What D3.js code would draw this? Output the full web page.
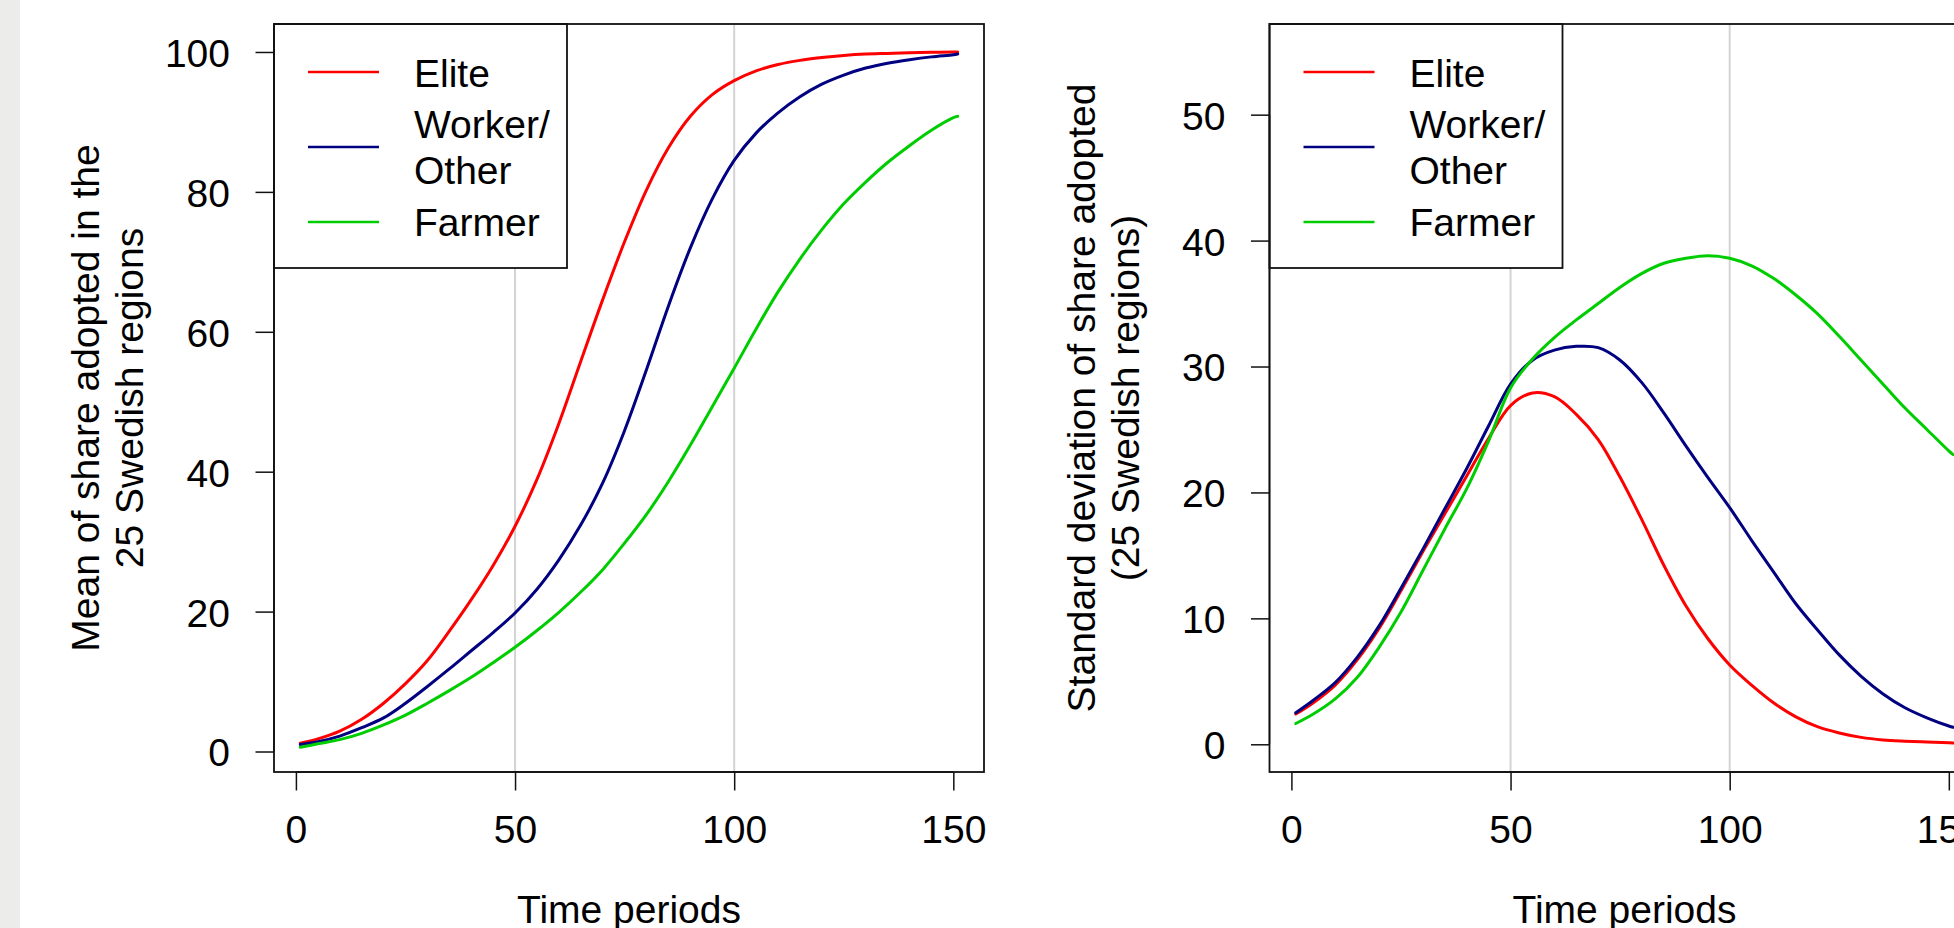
<!DOCTYPE html>
<html>
<head>
<meta charset="utf-8">
<script src="https://cdn.jsdelivr.net/npm/d3@7"></script>
<style>
html,body{margin:0;padding:0;background:#fff;overflow:hidden}
svg{display:block}
text{font-family:"Liberation Sans",Arial,Helvetica,sans-serif;fill:#000}
</style>
</head>
<body>
<svg id="chart" width="1954" height="928"></svg>
<script>
// ---------------- data ----------------
const timePeriods = [1,5,10,15,20,25,30,35,40,45,50,55,60,65,70,75,80,85,90,95,100,105,110,115,120,125,130,135,140,145,150,151];

// Left panel: mean of share adopted in the 25 Swedish regions
const meanElite  = [1.2,1.8,2.9,4.6,6.9,9.7,13.0,17.2,21.7,26.6,32.2,38.9,46.9,55.8,64.6,72.9,80.3,86.3,90.8,93.9,95.9,97.3,98.2,98.8,99.2,99.5,99.7,99.8,99.9,99.95,100.0,100.0];
const meanWorker = [1.0,1.4,2.2,3.4,4.8,6.9,9.3,11.8,14.4,17.0,19.8,23.2,27.4,32.4,38.4,45.9,54.6,63.7,72.0,79.0,84.5,88.4,91.3,93.6,95.4,96.7,97.7,98.4,98.9,99.3,99.6,99.7];
const meanFarmer = [0.6,1.1,1.7,2.6,3.8,5.2,6.9,8.7,10.6,12.7,14.9,17.3,19.9,22.8,26.0,29.8,33.9,38.6,43.8,49.3,54.8,60.4,65.7,70.4,74.6,78.3,81.4,84.2,86.6,88.8,90.6,90.8];

// Right panel: standard deviation of share adopted (25 Swedish regions)
const sdElite  = [2.4,3.3,4.7,6.7,9.2,12.2,15.3,18.3,21.3,24.3,26.9,27.9,27.6,26.2,24.2,21.2,17.8,14.2,11.0,8.4,6.3,4.7,3.3,2.2,1.4,0.9,0.55,0.35,0.25,0.18,0.12,0.1];
const sdWorker = [2.5,3.5,4.9,6.9,9.4,12.4,15.5,18.7,21.9,25.3,28.6,30.5,31.3,31.6,31.5,30.5,28.7,26.3,23.7,21.2,18.8,16.2,13.7,11.2,9.1,7.1,5.4,4.0,2.9,2.1,1.45,1.35];
const sdFarmer = [1.65,2.4,3.6,5.3,7.7,10.5,13.8,17.1,20.3,24.1,28.3,30.6,32.3,33.7,35.0,36.3,37.4,38.2,38.6,38.8,38.6,38.0,37.0,35.7,34.2,32.4,30.5,28.6,26.7,25.0,23.3,23.0];

const seriesLabels = [["Elite"],["Worker/","Other"],["Farmer"]];
const seriesColors = ["#FF0000","#000080","#00CD00"];

const xTicks = [0,50,100,150];
const gridTicks = [50,100];
const leftYTicks = [0,20,40,60,80,100];
const rightYTicks = [0,10,20,30,40,50];

const xLabel = "Time periods";
const leftYLabel = ["Mean of share adopted in the","25 Swedish regions"];
const rightYLabel = ["Standard deviation of share adopted","(25 Swedish regions)"];

// ---------------- drawing ----------------
const svg = d3.select("#chart");
const FS = 39;

svg.append("rect").attr("x",0).attr("y",0).attr("width",1954).attr("height",928).attr("fill","#fff");
svg.append("rect").attr("x",0).attr("y",0).attr("width",20).attr("height",928).attr("fill","#ececea");

function drawPanel(boxLeft, yDomain, yTicks, series, yTitle) {
  const top = 24, bottom = 772, width = 710;
  const x = d3.scaleLinear().domain([-5,157]).range([boxLeft, boxLeft + width]);
  const y = d3.scaleLinear().domain(yDomain).range([bottom, top]);
  const g = svg.append("g");

  // grid lines
  g.selectAll("line.grid").data(gridTicks).enter().append("line")
    .attr("x1", d => x(d)).attr("x2", d => x(d))
    .attr("y1", top).attr("y2", bottom)
    .attr("stroke", "#d3d3d3").attr("stroke-width", 2);

  // curves
  const line = d3.line().x((d,i) => x(timePeriods[i])).y(d => y(d)).curve(d3.curveCatmullRom.alpha(0.5));
  series.forEach((s, k) => {
    g.append("path").datum(s).attr("d", line)
      .attr("fill","none").attr("stroke", seriesColors[k])
      .attr("stroke-width", 3).attr("stroke-linejoin","round").attr("stroke-linecap","round");
  });

  // legend
  const lg = g.append("g");
  lg.append("rect").attr("x", boxLeft).attr("y", top).attr("width", 293).attr("height", 244)
    .attr("fill","#fff").attr("stroke","#111").attr("stroke-width",1.8);
  const legendLineY = [72,147,222];
  const legendTextY = [[87],[138,184],[236]];
  seriesLabels.forEach((lab, k) => {
    lg.append("line").attr("x1", boxLeft+34).attr("x2", boxLeft+105)
      .attr("y1", legendLineY[k]).attr("y2", legendLineY[k])
      .attr("stroke", seriesColors[k]).attr("stroke-width", 2.5);
    lab.forEach((t, j) => {
      lg.append("text").attr("x", boxLeft+140).attr("y", legendTextY[k][j])
        .attr("font-size", FS).text(t);
    });
  });

  // box
  g.append("rect").attr("x", boxLeft).attr("y", top).attr("width", width).attr("height", bottom-top)
    .attr("fill","none").attr("stroke","#111").attr("stroke-width",1.8);

  // axes
  const ax = g.append("g").attr("transform", `translate(0,${bottom})`)
    .call(d3.axisBottom(x).tickValues(xTicks).tickSize(18.5).tickPadding(25).tickFormat(d3.format("d")));
  ax.select(".domain").attr("d", `M${x(0)},0H${x(150)}`).attr("stroke","#111").attr("stroke-width",1.5);
  ax.selectAll(".tick line").attr("stroke","#111").attr("stroke-width",1.5);
  ax.selectAll(".tick text").attr("font-size", FS).attr("font-family", null).attr("fill","#000");

  const ay = g.append("g").attr("transform", `translate(${boxLeft},0)`)
    .call(d3.axisLeft(y).tickValues(yTicks).tickSize(18.5).tickPadding(25.5).tickFormat(d3.format("d")));
  ay.select(".domain").attr("d", `M0,${y(yTicks[0])}V${y(yTicks[yTicks.length-1])}`).attr("stroke","#111").attr("stroke-width",1.5);
  ay.selectAll(".tick line").attr("stroke","#111").attr("stroke-width",1.5);
  ay.selectAll(".tick text").attr("font-size", FS).attr("font-family", null).attr("fill","#000").attr("dy","0.37em");

  // titles
  g.append("text").attr("x", boxLeft + width/2).attr("y", 923)
    .attr("text-anchor","middle").attr("font-size", FS).text(xLabel);
  const cy = (top + bottom) / 2;
  const offs = [-175, -131];
  yTitle.forEach((t, j) => {
    g.append("text")
      .attr("transform", `translate(${boxLeft + offs[j]},${cy}) rotate(-90)`)
      .attr("text-anchor","middle").attr("font-size", FS).text(t);
  });
}

drawPanel(274, [-2.93, 104.0], leftYTicks, [meanElite, meanWorker, meanFarmer], leftYLabel);
drawPanel(1269.5, [-2.2, 57.2], rightYTicks, [sdElite, sdWorker, sdFarmer], rightYLabel);
</script>
</body>
</html>
